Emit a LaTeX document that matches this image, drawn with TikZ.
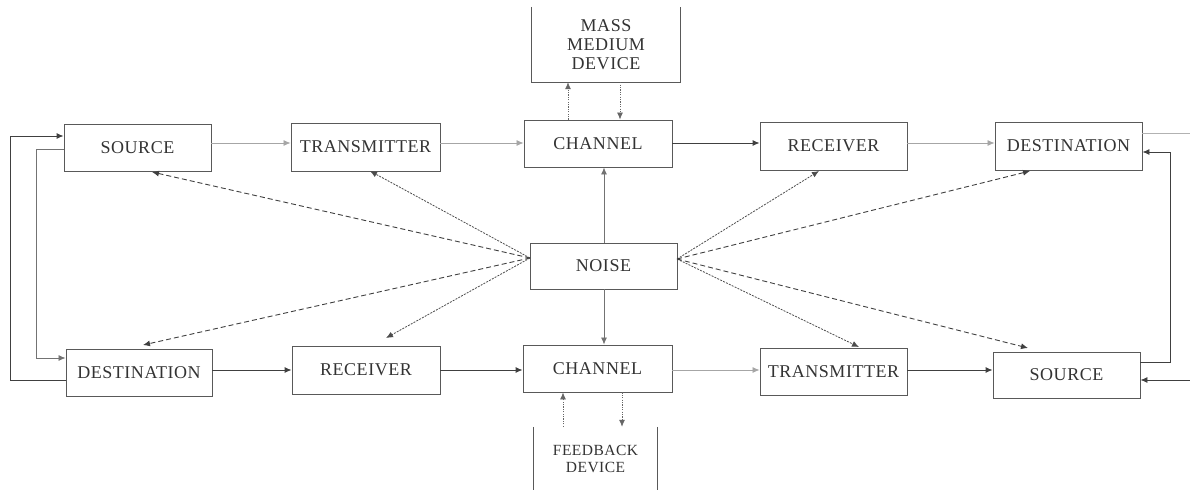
\documentclass[tikz,border=0pt]{standalone}
\usepackage{fontspec}
\setmainfont{Liberation Serif}
\newfontfamily\boxfont[LetterSpace=3]{Liberation Serif}
\usetikzlibrary{arrows.meta}
\tikzset{
  box/.style={draw=black!65, line width=0.9pt, rectangle, inner sep=0pt, text=black!80,
    font=\boxfont\fontsize{18}{19}\selectfont, minimum width=147pt, minimum height=47pt},
  frame/.style={rectangle, inner sep=0pt, text=black!80, align=center},
  arr/.style={-{Latex[length=7pt,width=6pt]}},
  dark/.style={arr, draw=black!75, line width=0.9pt},
  light/.style={arr, draw=black!35, line width=0.8pt},
  mid/.style={arr, draw=black!55, line width=0.8pt},
  outerdash/.style={arr, draw=black!75, line width=0.9pt, dash pattern=on 5pt off 3pt},
  innerdash/.style={arr, draw=black!70, line width=0.8pt, dash pattern=on 2pt off 1.2pt},
  dotarr/.style={arr, draw=black!60, line width=0.8pt, dash pattern=on 1.2pt off 1.2pt},
  framel/.style={draw=black!65, line width=0.9pt}
}
\begin{document}
\begin{tikzpicture}[x=1pt,y=-1pt]
\useasboundingbox (0,0) rectangle (1190,490);
% top row
\node[box] (srcT) at (137.5,147.5) {SOURCE};
\node[box, minimum width=149pt, minimum height=48pt] (trT) at (365.5,147) {TRANSMITTER};
\node[box, minimum width=148pt] (chT) at (598,143.5) {CHANNEL};
\node[box, minimum height=48pt] (rcT) at (833.5,146) {RECEIVER};
\node[box, minimum height=48pt] (dsT) at (1068.5,146) {DESTINATION};
% mass medium
\node[frame, minimum width=148pt, minimum height=75pt, font=\boxfont\fontsize{18}{19}\selectfont] (mass) at (606,44.5) {MASS\\MEDIUM\\DEVICE};
\draw[framel] (mass.north west) -- (mass.south west) -- (mass.south east) -- (mass.north east);
% noise
\node[box, minimum height=46pt] (noise) at (603.5,266) {NOISE};
% bottom row
\node[box, minimum width=146pt] (dsB) at (139,372.5) {DESTINATION};
\node[box, minimum width=148pt, minimum height=48pt] (rcB) at (366,370) {RECEIVER};
\node[box, minimum width=149pt] (chB) at (597.5,368.5) {CHANNEL};
\node[box] (trB) at (833.5,371.5) {TRANSMITTER};
\node[box, minimum height=46pt] (srB) at (1066.5,375) {SOURCE};
% feedback
\node[frame, minimum width=123pt, minimum height=63pt, font=\boxfont\fontsize{15.5}{17}\selectfont] (fb) at (595.5,458.5) {FEEDBACK\\DEVICE};
\draw[framel] (fb.north west) -- (fb.south west);
\draw[framel] (fb.north east) -- (fb.south east);
% top row connectors
\coordinate (ty) at (0,143);
\draw[light] (srcT.east |- ty) -- (trT.west |- ty);
\draw[light] (trT.east |- ty) -- (chT.west |- ty);
\draw[dark] (chT.east |- ty) -- (rcT.west |- ty);
\draw[light] (rcT.east |- ty) -- (dsT.west |- ty);
\coordinate (outTR) at (1190,133);
\draw[draw=black!30, line width=0.8pt] (dsT.east |- outTR) -- (outTR);
% bottom row connectors
\coordinate (by) at (0,370);
\draw[dark] (dsB.east |- by) -- (rcB.west |- by);
\draw[dark] (rcB.east |- by) -- (chB.west |- by);
\draw[light] (chB.east |- by) -- (trB.west |- by);
\draw[dark] (trB.east |- by) -- (srB.west |- by);
% right loop
\coordinate (r1) at (1170,362);
\coordinate (r2) at (1170,152);
\draw[dark] (srB.east |- r1) -- (r1) -- (r2) -- (dsT.east |- r2);
\coordinate (inR) at (1190,380);
\draw[dark] (inR) -- (srB.east |- inR);
% left loops
\coordinate (l1) at (10,380);
\coordinate (l2) at (10,136);
\draw[dark] (dsB.west |- l1) -- (l1) -- (l2) -- (srcT.west |- l2);
\coordinate (m1) at (36,149);
\coordinate (m2) at (36,358);
\draw[mid] (srcT.west |- m1) -- (m1) -- (m2) -- (dsB.west |- m2);
% mass medium dotted
\coordinate (mx1) at (568,0);
\coordinate (mx2) at (620,0);
\draw[dotarr] (chT.north -| mx1) -- (mass.south -| mx1);
\draw[dotarr] (mass.south -| mx2) -- (chT.north -| mx2);
% feedback dotted
\coordinate (fx1) at (563,0);
\coordinate (fx2) at (622,0);
\draw[dotarr] (fb.north -| fx1) -- (chB.south -| fx1);
\draw[dotarr] (chB.south -| fx2) -- (fb.north -| fx2);
% noise vertical
\coordinate (nx) at (604,0);
\draw[mid] (noise.north -| nx) -- (chT.south -| nx);
\draw[mid] (noise.south -| nx) -- (chB.north -| nx);
% noise dashed
\coordinate (nl) at (530,258);
\coordinate (nr) at (677,259);
\coordinate (t1) at (152,172);
\coordinate (t2) at (370,171);
\coordinate (t3) at (819,171);
\coordinate (t4) at (1030,171);
\coordinate (t5) at (143,345);
\coordinate (t6) at (386,338);
\coordinate (t7) at (859,347);
\coordinate (t8) at (1028,348);
\draw[outerdash] (nl) -- (t1);
\draw[innerdash] (nl) -- (t2);
\draw[innerdash] (nr) -- (t3);
\draw[outerdash] (nr) -- (t4);
\draw[outerdash] (nl) -- (t5);
\draw[innerdash] (nl) -- (t6);
\draw[innerdash] (nr) -- (t7);
\draw[outerdash] (nr) -- (t8);
\end{tikzpicture}
\end{document}
